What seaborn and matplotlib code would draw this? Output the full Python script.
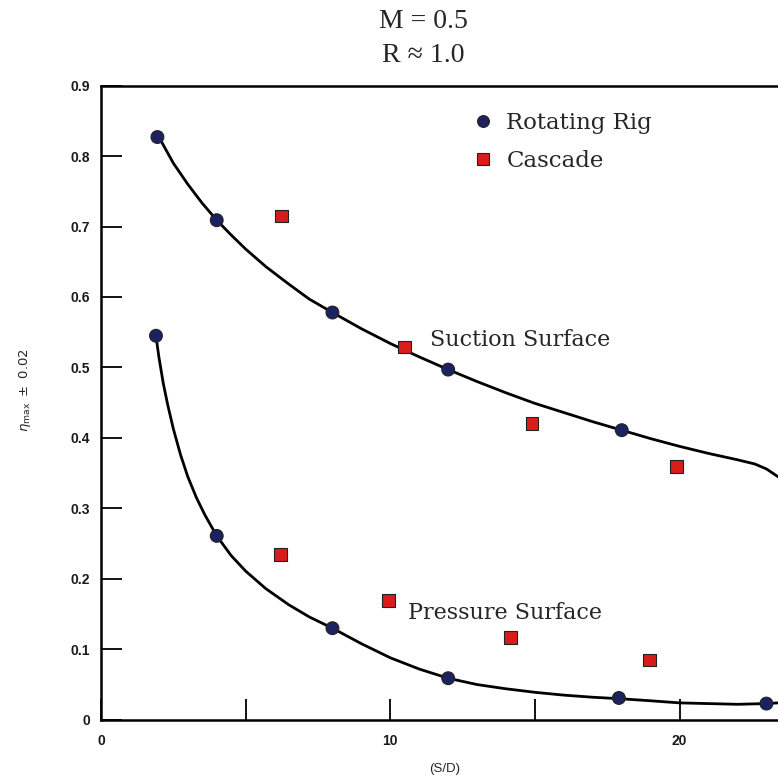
import matplotlib
matplotlib.use("Agg")
import matplotlib.pyplot as plt
import seaborn as sns
import pandas as pd

# ---- data ----
rig_x = [1.95, 4.0, 8.0, 12.0, 18.0, 1.9, 4.0, 8.0, 12.0, 17.9, 23.0]
rig_y = [0.827, 0.709, 0.578, 0.497, 0.411, 0.545, 0.261, 0.130, 0.059, 0.031, 0.023]
cas_x = [6.25, 10.5, 14.9, 19.9, 6.2, 9.95, 14.15, 18.95]
cas_y = [0.715, 0.529, 0.420, 0.359, 0.235, 0.169, 0.117, 0.085]

# fitted curves, points
suction_x = [2.0, 2.5, 3.0, 3.5, 4.0, 4.5, 5.0, 5.7, 6.5, 7.2, 8.0, 9.0, 10.0, 11.0, 12.0,
             13.0, 14.0, 15.0, 16.0, 17.0, 18.0, 19.0, 20.0, 21.0, 22.0, 22.6, 23.0, 23.4]
suction_y = [0.827, 0.790, 0.760, 0.733, 0.709, 0.688, 0.668, 0.643, 0.618, 0.597, 0.578, 0.555,
             0.534, 0.515, 0.497, 0.480, 0.464, 0.449, 0.436, 0.423, 0.411, 0.399, 0.388, 0.378,
             0.369, 0.363, 0.356, 0.345]
pressure_x = [1.9, 2.0, 2.15, 2.3, 2.5, 2.75, 3.0, 3.3, 3.6, 4.0, 4.5, 5.0, 5.7, 6.5, 7.2, 8.0,
              9.0, 10.0, 11.0, 12.0, 13.0, 14.0, 15.0, 16.0, 17.0, 17.9, 19.0, 20.0, 21.0, 22.0,
              23.0, 23.4]
pressure_y = [0.545, 0.515, 0.478, 0.448, 0.413, 0.376, 0.345, 0.315, 0.290, 0.261, 0.233, 0.211,
              0.186, 0.163, 0.146, 0.130, 0.108, 0.088, 0.072, 0.059, 0.050, 0.044, 0.039, 0.035,
              0.032, 0.030, 0.027, 0.024, 0.023, 0.022, 0.023, 0.024]

x_ticks = [0, 5, 10, 15, 20]
x_ticklabels = ["0", "", "10", "", "20"]
y_ticks = [0, 0.1, 0.2, 0.3, 0.4, 0.5, 0.6, 0.7, 0.8, 0.9]
y_ticklabels = ["0", "0.1", "0.2", "0.3", "0.4", "0.5", "0.6", "0.7", "0.8", "0.9"]
series_names = ["Rotating Rig", "Cascade"]

sns.set_style("white")
plt.rcParams["font.family"] = ["DejaVu Sans"]

pts = pd.DataFrame({
    "x": rig_x + cas_x,
    "y": rig_y + cas_y,
    "Source": [series_names[0]] * len(rig_x) + [series_names[1]] * len(cas_x),
})

fig = plt.figure(figsize=(7.78, 7.82), dpi=100)
ax = fig.add_axes([101 / 778, 1 - 719.8 / 782, 677 / 778, (719.8 - 85.6) / 782])

sns.lineplot(x=suction_x, y=suction_y, ax=ax, color="black", lw=2.0, sort=False, estimator=None)
sns.lineplot(x=pressure_x, y=pressure_y, ax=ax, color="black", lw=2.0, sort=False, estimator=None)

sns.scatterplot(data=pts, x="x", y="y", hue="Source", style="Source",
                palette={series_names[0]: "#1c2160", series_names[1]: "#d81c1c"},
                markers={series_names[0]: "o", series_names[1]: "s"},
                s=85, edgecolor="#222222", linewidth=0.8, ax=ax, zorder=5, clip_on=False)

ax.set_xlim(0, 23.4)
ax.set_ylim(0, 0.9)
ax.set_xticks(x_ticks)
ax.set_xticklabels(x_ticklabels)
ax.set_yticks(y_ticks)
ax.set_yticklabels(y_ticklabels)
ax.tick_params(bottom=True, left=True, top=False, right=False,
               direction="in", length=15, width=1.3, color="black")
ax.tick_params(axis="x", pad=10)
ax.tick_params(axis="y", pad=8)
for lab in ax.get_xticklabels() + ax.get_yticklabels():
    lab.set_fontfamily("Liberation Sans")
    lab.set_fontweight("bold")
    lab.set_fontsize(10)
    lab.set_color("#1a1a1a")

for side in ["left", "bottom", "top"]:
    ax.spines[side].set_visible(True)
    ax.spines[side].set_color("black")
    ax.spines[side].set_linewidth(1.8)
ax.spines["right"].set_visible(False)

ax.set_xlabel("(S/D)", fontsize=9.5, fontfamily="Liberation Sans")
ax.xaxis.set_label_coords((445 - 101) / 677, -0.068)
ax.set_ylabel(r"$\eta_{\mathrm{max}}\ \pm\ 0.02$", fontsize=9.5)
ax.yaxis.set_label_coords(-0.10, 0.52)

serif = ["DejaVu Serif"]
ax.text(11.38, 0.539, "Suction Surface", fontsize=16, family=serif, va="center", ha="left")
ax.text(10.6, 0.151, "Pressure Surface", fontsize=16, family=serif, va="center", ha="left")

fig.text(423 / 778, 1 - 21.7 / 782, "M = 0.5", fontsize=20, family=["Liberation Serif"], ha="center", va="center")
fig.text(423 / 778, 1 - 55 / 782, "R \u2248 1.0", fontsize=20, family=["Liberation Serif"], ha="center", va="center")

sns.move_legend(ax, "upper left", bbox_to_anchor=(0.548, 0.958), frameon=False, title=None,
                handlelength=1.0, handletextpad=0.5, labelspacing=0.7, borderpad=0,
                borderaxespad=0, prop={"family": "DejaVu Serif", "size": 16.5})
leg = ax.get_legend()
for h in leg.legend_handles:
    h.set_markersize(8.5)

fig.savefig("out.png", dpi=100)
